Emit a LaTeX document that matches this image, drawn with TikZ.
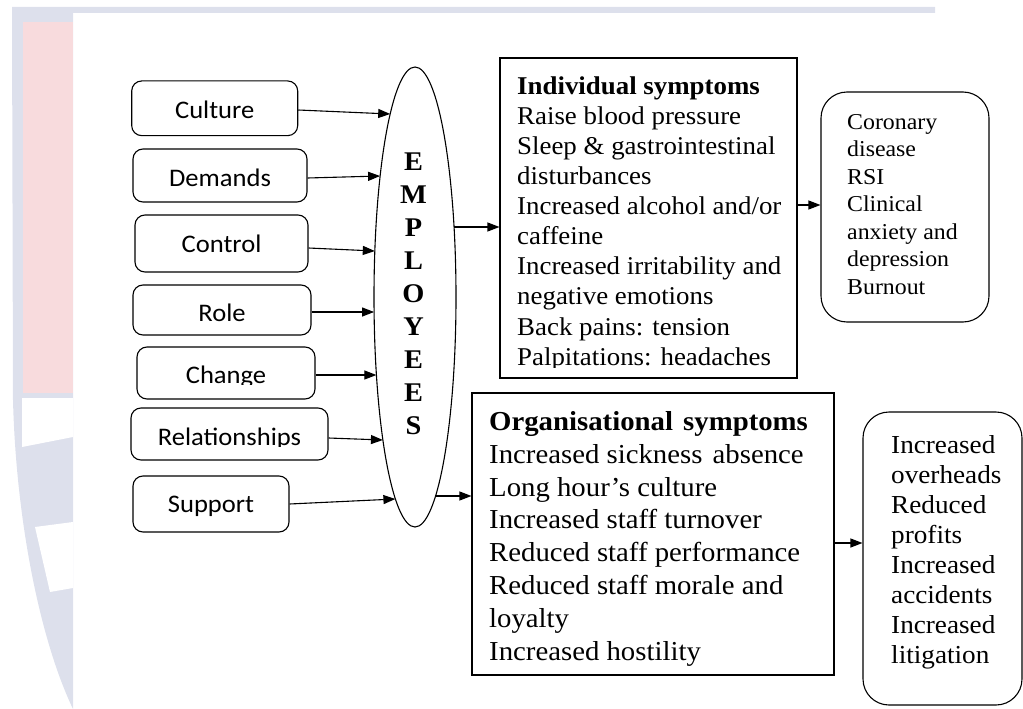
\documentclass[tikz,border=0pt]{standalone}
\usepackage{fontspec}
\setmainfont{Liberation Serif}[FakeStretch=1.05]
\newfontfamily\calib{Carlito}[FakeStretch=1.05]
\usetikzlibrary{shapes.geometric,arrows.meta}
\definecolor{wmgray}{RGB}{221,224,236}
\definecolor{wmpink}{RGB}{248,219,221}
\tikzset{
  ln/.style={line width=1.1pt},
  factor/.style={draw, ln, rounded corners=10pt, inner sep=0pt},
  factortext/.style={font=\calib\fontsize{25.3}{30}\selectfont, anchor=base, inner sep=0pt},
  sqbox/.style={draw, ln, inner sep=0pt},
  rbox/.style={draw, ln, rounded corners=26pt, inner sep=0pt},
  arr/.style={ln, -{Triangle[length=12pt,width=9pt]}},
  txt/.style={anchor=north west, inner sep=0pt, align=left},
}
\begin{document}
\begin{tikzpicture}[x=1pt,y=-1pt]
\useasboundingbox (0,0) rectangle (1023,709);
% background watermark
\fill[wmgray] (12,7) -- (935,7) -- (935,13) -- (73,13) -- (73,709)
  .. controls (40,640) and (16,520) .. (13,400) -- cycle;
\fill[wmpink] (23,22) rectangle (73,393);
\fill[white] (22,398) -- (73,398) -- (73,437) -- (22,447) -- cycle;
\fill[white] (35,527) -- (73,522) -- (73,588) -- (50,592) -- cycle;

% stressor boxes
\node[factor, minimum width=166pt, minimum height=54.7pt] (culture) at (214.7,108.3) {};
\node[factortext] (culturet) at (214.7,118) {Culture};
\node[factor, minimum width=174pt, minimum height=53pt] (demands) at (220,175.5) {};
\node[factortext] (demandst) at (220,186) {Demands};
\node[factor, minimum width=173pt, minimum height=57pt] (control) at (221.5,243.5) {};
\node[factortext] (controlt) at (221.5,252) {Control};
\node[factor, minimum width=178pt, minimum height=50pt] (role) at (222,310) {};
\node[factortext] (rolet) at (222,321) {Role};
\node[factor, minimum width=178pt, minimum height=52pt] (change) at (226,373) {};
\begin{scope}
  \clip (137,347) rectangle (315,384.5);
  \node[factortext] (changet) at (226,383.5) {Change};
\end{scope}
\node[factor, minimum width=197pt, minimum height=52pt] (relationships) at (229.5,434) {};
\begin{scope}
  \clip (131,408) rectangle (328,446);
  \node[factortext] (relationshipst) at (229.5,445) {Relationships};
\end{scope}
\node[factor, minimum width=156pt, minimum height=56pt] (support) at (211,504) {};
\node[factortext] (supportt) at (211,512) {Support};

% employees ellipse
\node[draw, ln, ellipse, minimum width=82pt, minimum height=460pt, inner sep=0pt] (emp) at (415,297) {};
\node[font=\bfseries\fontsize{27}{33}\selectfont, align=center, anchor=north, inner sep=0pt]
  (empt) at (413.5,150) {\rule{0pt}{20pt}E\\M\\P\\L\\O\\Y\\E\\E\\S};
% points on the ellipse border
\coordinate (e1) at ([shift={(-24.8,-183)}]emp.center);
\coordinate (e2) at ([shift={(-34.9,-121)}]emp.center);
\coordinate (e3) at ([shift={(-40.2,-46)}]emp.center);
\coordinate (e4) at ([shift={(-40.9,15)}]emp.center);
\coordinate (e5) at ([shift={(-38.6,78)}]emp.center);
\coordinate (e6) at ([shift={(-32.1,143)}]emp.center);
\coordinate (e7) at ([shift={(-19.6,202)}]emp.center);
\coordinate (r1) at ([shift={(39.1,-70)}]emp.center);
\coordinate (r2) at ([shift={(20.6,199)}]emp.center);

% individual symptoms
\node[sqbox, minimum width=297pt, minimum height=320pt] (ind) at (648.5,218) {};
\begin{scope}
  \clip (500,58) rectangle (797,367);
  \node[txt, font=\fontsize{25.6}{30.1}\selectfont] (indt) at (517,74)
    {\rule{0pt}{20pt}\textbf{Individual symptoms}\\
     Raise blood pressure\\
     Sleep \& gastrointestinal\\
     disturbances\\
     Increased alcohol and/or\\
     caffeine\\
     Increased irritability and\\
     negative emotions\\
     Back pains: tension\\
     Palpitations: headaches};
\end{scope}

% coronary box
\node[rbox, minimum width=168pt, minimum height=230pt] (cor) at (905,207) {};
\node[txt, font=\fontsize{22.7}{27.5}\selectfont] (cort) at (847,111)
  {\rule{0pt}{18pt}Coronary\\disease\\RSI\\Clinical\\anxiety and\\depression\\Burnout};

% organisational symptoms
\node[sqbox, minimum width=362pt, minimum height=282pt] (org) at (653,534) {};
\node[txt, font=\fontsize{27.4}{32.9}\selectfont] (orgt) at (489,409)
  {\rule{0pt}{21pt}\textbf{Organisational\hspace{3pt} symptoms}\\
   Increased sickness\hspace{3pt} absence\\
   Long hour’s culture\\
   Increased staff turnover\\
   Reduced staff performance\\
   Reduced staff morale and\\
   loyalty\\
   Increased hostility};

% final box
\node[rbox, minimum width=159pt, minimum height=293pt] (fin) at (942.5,558.5) {};
\node[txt, font=\fontsize{25.9}{30}\selectfont] (fint) at (891,433)
  {\rule{0pt}{20pt}Increased\\overheads\\Reduced\\profits\\Increased\\accidents\\Increased\\litigation};

% connectors
\draw[arr] ([yshift=-1.7pt]culture.east) -- (e1);
\draw[arr] ([yshift=-2.5pt]demands.east) -- (e2);
\draw[arr] ([yshift=-4.5pt]control.east) -- (e3);
\draw[arr] ([yshift=-2pt]role.east) -- (e4);
\draw[arr] ([yshift=-2pt]change.east) -- (e5);
\draw[arr] ([yshift=-4pt]relationships.east) -- (e6);
\draw[arr] (support.east) -- (e7);
\draw[arr] (r1) -- (r1 -| ind.west);
\coordinate (a1) at ([yshift=13pt]ind.east);
\draw[arr] (a1) -- (a1 -| cor.west);
\draw[arr] (r2) -- (r2 -| org.west);
\coordinate (a2) at ([yshift=-9pt]org.east);
\draw[arr] (a2) -- (a2 -| fin.west);
\end{tikzpicture}
\end{document}
